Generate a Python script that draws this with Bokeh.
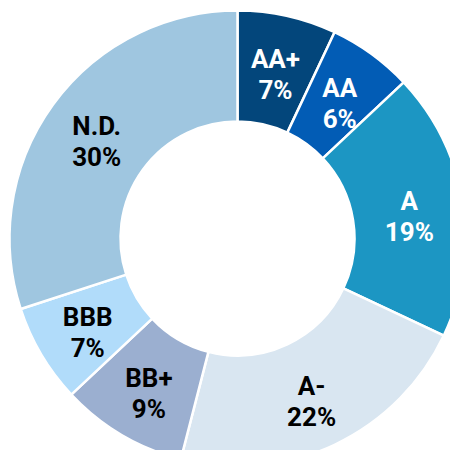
import numpy as np
from bokeh.plotting import figure
from bokeh.models import ColumnDataSource
from bokeh.core.properties import value
from bokeh.embed import file_html
from bokeh.resources import INLINE

ratings = ["AA+", "AA", "A", "A-", "BB+", "BBB", "N.D."]
shares = [7, 6, 19, 22, 9, 7, 30]
colors = ["#03467B", "#025CB5", "#1C96C3", "#D9E6F1", "#9BAFD0", "#B1DCFA", "#9FC6E0"]
label_colors = ["white", "white", "white", "black", "black", "black", "black"]

R_OUT, R_IN, R_LAB = 228, 117, 174
CX, CY = 237, 238  # donut centre in figure pixels (from top-left)

frac = np.array(shares, dtype=float) / sum(shares)
cum = np.concatenate([[0.0], np.cumsum(frac)])
start = np.pi / 2 - 2 * np.pi * cum[:-1]
end = np.pi / 2 - 2 * np.pi * cum[1:]
mid = (start + end) / 2
lx = R_LAB * np.cos(mid)
ly = R_LAB * np.sin(mid)

src = ColumnDataSource(dict(
    start=start, end=end, color=colors,
    x=lx, y1=ly + 10, y2=ly - 21,
    name=ratings, pct=[f"{s}%" for s in shares], tc=label_colors,
))

W = H = 450
p = figure(width=W, height=H, x_range=(-CX, W - CX), y_range=(-(H - CY), CY),
           output_backend="svg", toolbar_location=None, min_border=0)
p.axis.visible = False
p.grid.visible = False
p.outline_line_color = None

p.annular_wedge(x=0, y=0, inner_radius=R_IN, outer_radius=R_OUT,
                start_angle="start", end_angle="end", direction="clock",
                fill_color="color", line_color="white", line_width=2.5, source=src)

font = value("Roboto")
p.text(x="x", y="y1", text="name", text_color="tc", text_font=font,
       text_font_size="26px", text_font_style="bold", text_align="center",
       text_baseline="middle", source=src)
p.text(x="x", y="y2", text="pct", text_color="tc", text_font=font,
       text_font_size="26px", text_font_style="bold", text_align="center",
       text_baseline="middle", source=src)

open("out.html", "w").write(file_html(p, INLINE))
